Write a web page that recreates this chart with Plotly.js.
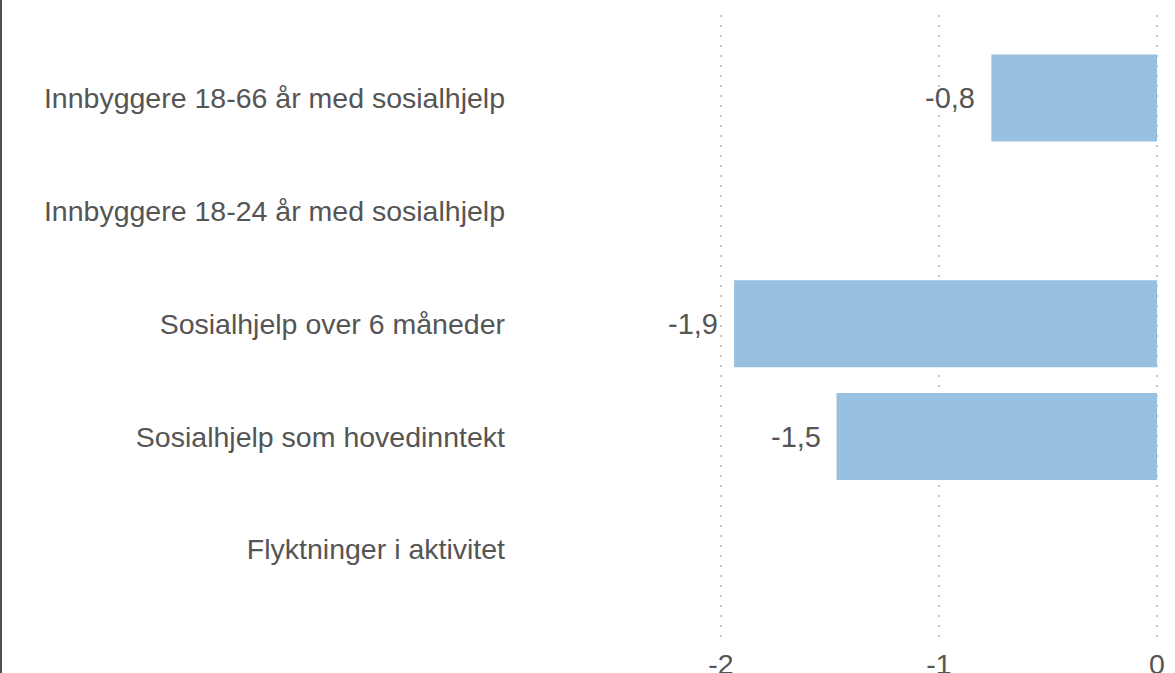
<!DOCTYPE html>
<html>
<head>
<meta charset="utf-8">
<script src="https://cdn.plot.ly/plotly-3.0.1.min.js"></script>
<style>
  html, body { margin: 0; padding: 0; background: #fff; overflow: hidden; }
  #chart { position: absolute; left: 0; top: 0; width: 1175px; height: 673px; }
  #edge { position: absolute; left: 0; top: 0; width: 2px; height: 673px; background: #4d4d4d; z-index: 10; }
</style>
</head>
<body>
<div id="chart"></div>
<div id="edge"></div>
<script>
const categories = [
  "Innbyggere 18-66 år med sosialhjelp",
  "Innbyggere 18-24 år med sosialhjelp",
  "Sosialhjelp over 6 måneder",
  "Sosialhjelp som hovedinntekt",
  "Flyktninger i aktivitet"
];
const values = [-0.76, null, -1.94, -1.47, null];
const tickValues = [-2, -1, 0];
const tickLabels = ["-2", "-1", "0"];

const fmt = v => v.toFixed(1).replace(".", ",");
const textColor = "#555555";
const fontFam = "'Liberation Sans', Arial, sans-serif";

const trace = {
  type: "bar",
  orientation: "h",
  y: categories,
  x: values,
  width: 0.77,
  marker: { color: "#97c0e1", line: { width: 0 } },
  hoverinfo: "skip"
};

const annotations = [];
values.forEach((v, i) => {
  if (v === null) return;
  annotations.push({
    x: v, y: categories[i], xref: "x", yref: "y",
    text: fmt(v), showarrow: false,
    xanchor: "right", yanchor: "middle", xshift: -14,
    font: { family: fontFam, size: 29, color: textColor }
  });
});

const layout = {
  width: 1175, height: 673,
  margin: { l: 520, r: 5, t: 15, b: 31, pad: 0 },
  paper_bgcolor: "#fff", plot_bgcolor: "#fff",
  showlegend: false,
  font: { family: fontFam, size: 28.5, color: textColor },
  xaxis: {
    range: [-2.922, 0.0596],
    tickvals: tickValues, ticktext: tickLabels,
    showgrid: true, gridcolor: "#c8c8c8", gridwidth: 1.5, griddash: "2px,8px",
    zeroline: false, showline: false, ticks: "",
    ticklabelstandoff: 2,
    tickfont: { family: fontFam, size: 28.5, color: textColor },
    fixedrange: true
  },
  yaxis: {
    type: "category",
    categoryorder: "array", categoryarray: categories,
    range: [4.82, -0.735],
    showgrid: false, zeroline: false, showline: false, ticks: "",
    ticklabelstandoff: 14,
    tickfont: { family: fontFam, size: 28.5, color: textColor },
    fixedrange: true
  },
  annotations: annotations
};

Plotly.newPlot("chart", [trace], layout, { displayModeBar: false, staticPlot: true });
</script>
</body>
</html>
